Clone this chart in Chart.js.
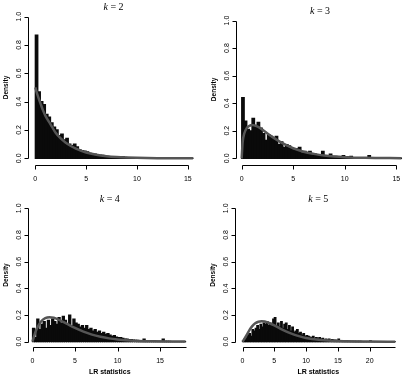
<!DOCTYPE html>
<html>
<head>
<meta charset="utf-8">
<script src="https://cdn.jsdelivr.net/npm/chart.js@4.4.0/dist/chart.umd.min.js"></script>
<style>
  body { margin: 0; background: #fff; }
  #wrap { position: relative; width: 405px; height: 374px; overflow: hidden; }
  canvas { position: absolute; }
</style>
</head>
<body>
<div id="wrap">
  <canvas id="k2" width="203" height="184" style="left:0;top:0"></canvas>
  <canvas id="k3" width="202" height="184" style="left:203px;top:0"></canvas>
  <canvas id="k4" width="203" height="190" style="left:0;top:184px"></canvas>
  <canvas id="k5" width="202" height="190" style="left:203px;top:184px"></canvas>
</div>
<script>
// histogram bin width (LR statistic units)
const binWidth = 0.25;

const yTicks = [0, 0.2, 0.4, 0.6, 0.8, 1.0];
const xTicksTop = [0, 5, 10, 15];
const xTicksK4 = [0, 5, 10, 15];
const xTicksK5 = [0, 5, 10, 15, 20];

// histogram densities, one value per bin starting at 0
const histK2 = [
  0.87, 0.47, 0.40, 0.38, 0.31, 0.29, 0.25, 0.22, 0.20, 0.16, 0.17, 0.13,
  0.14, 0.10, 0.09, 0.10, 0.08, 0.06, 0.055, 0.05, 0.045, 0.035, 0.03, 0.03,
  0.025, 0.02, 0.02, 0.016, 0.013, 0.012, 0.01, 0.009, 0.008, 0.007, 0.01, 0.006,
  0.005, 0.005, 0.004, 0.004, 0.003, 0.003, 0.003, 0.002, 0.003, 0.002, 0.002, 0.002,
  0.001, 0.002, 0.001, 0.001, 0.001, 0.002, 0.001, 0.001, 0.001, 0.001, 0.001, 0.001,
  0.001, 0.001
];
const histK3 = [
  0.44, 0.27, 0.21, 0.20, 0.29, 0.24, 0.26, 0.22, 0.18, 0.13, 0.17, 0.16,
  0.14, 0.16, 0.10, 0.12, 0.08, 0.10, 0.09, 0.07, 0.06, 0.07, 0.08, 0.04,
  0.05, 0.04, 0.05, 0.03, 0.03, 0.025, 0.02, 0.05, 0.02, 0.02, 0.03, 0.01,
  0.015, 0.01, 0.01, 0.02, 0.008, 0.01, 0.015, 0.005, 0.005, 0.004, 0.004, 0.003,
  0.003, 0.02, 0.003, 0.002, 0.003, 0.002, 0.002, 0.001, 0.001, 0.001, 0.001, 0.001,
  0.001, 0.001
];
const histK4 = [
  0.10, 0.03, 0.17, 0.09, 0.13, 0.15, 0.10, 0.16, 0.12, 0.17, 0.15, 0.13,
  0.18, 0.14, 0.19, 0.16, 0.13, 0.20, 0.12, 0.17, 0.14, 0.13, 0.11, 0.12,
  0.10, 0.12, 0.09, 0.10, 0.08, 0.09, 0.07, 0.08, 0.06, 0.07, 0.055, 0.06,
  0.05, 0.04, 0.045, 0.035, 0.03, 0.03, 0.025, 0.02, 0.02, 0.015, 0.015, 0.012,
  0.01, 0.01, 0.008, 0.008, 0.02, 0.006, 0.005, 0.005, 0.004, 0.004, 0.003, 0.003,
  0.003, 0.02, 0.002, 0.002, 0.002, 0.001, 0.001, 0.001, 0.001, 0.001, 0.001, 0.001
];
const histK5 = [
  0.005, 0.02, 0.03, 0.05, 0.06, 0.04, 0.09, 0.08, 0.10, 0.12, 0.09, 0.13,
  0.11, 0.14, 0.13, 0.15, 0.12, 0.14, 0.13, 0.17, 0.18, 0.12, 0.14, 0.11,
  0.15, 0.10, 0.13, 0.14, 0.09, 0.12, 0.08, 0.11, 0.07, 0.08, 0.09, 0.06,
  0.07, 0.05, 0.06, 0.04, 0.045, 0.04, 0.035, 0.03, 0.04, 0.025, 0.03, 0.02,
  0.03, 0.02, 0.025, 0.015, 0.02, 0.012, 0.02, 0.01, 0.015, 0.01, 0.012, 0.008,
  0.02, 0.006, 0.008, 0.005, 0.005, 0.004, 0.004, 0.003, 0.003, 0.003, 0.002, 0.002,
  0.002, 0.002, 0.002, 0.001, 0.001, 0.001, 0.001, 0.001, 0.006, 0.001, 0.001, 0.001,
  0.001, 0.001, 0.001, 0.001, 0.001, 0.001, 0.001, 0.001, 0.001, 0.001, 0.001, 0.001
];

// reference density curves
const curveK2x = [0, 0.25, 0.5, 0.75, 1, 1.5, 2, 2.5, 3, 3.5, 4, 5, 6, 7, 8, 9, 10, 12, 14, 15.5];
const curveK2y = [0.50, 0.44, 0.39, 0.34, 0.30, 0.24, 0.18, 0.14, 0.11, 0.087, 0.068, 0.041, 0.025, 0.015, 0.009, 0.0056, 0.0034, 0.0012, 0.0005, 0.0002];
const curveK3x = [0, 0.1, 0.25, 0.5, 0.75, 1, 1.5, 2, 2.5, 3, 4, 5, 6, 7, 8, 9, 10, 12, 15.5];
const curveK3y = [0, 0.12, 0.18, 0.22, 0.235, 0.242, 0.231, 0.208, 0.18, 0.154, 0.108, 0.073, 0.048, 0.032, 0.02, 0.013, 0.0085, 0.0035, 0.0006];
const curveK4x = [0, 0.25, 0.5, 1, 1.5, 2, 2.5, 3, 4, 5, 6, 7, 8, 9, 10, 12, 14, 16, 18];
const curveK4y = [0, 0.055, 0.097, 0.152, 0.177, 0.184, 0.179, 0.167, 0.135, 0.103, 0.075, 0.053, 0.037, 0.025, 0.017, 0.0074, 0.0032, 0.0013, 0.0006];
const curveK5x = [0, 0.5, 1, 1.5, 2, 2.5, 3, 3.5, 4, 5, 6, 7, 8, 9, 10, 12, 14, 16, 18, 20, 24];
const curveK5y = [0, 0.037, 0.08, 0.115, 0.138, 0.150, 0.154, 0.152, 0.144, 0.122, 0.097, 0.074, 0.055, 0.040, 0.028, 0.0138, 0.0065, 0.003, 0.0013, 0.0006, 0.0001];

const sans = '"Liberation Sans", Arial, Helvetica, sans-serif';
const serif = '"Liberation Serif", "Times New Roman", serif';

// R-style axes: lines only span the ticks, y labels rotated
function rAxesPlugin(cfg) {
    return {
        id: 'rAxes',
        afterDraw(chart) {
            const ctx = chart.ctx;
            const area = chart.chartArea;
            const xs = chart.scales.x, ys = chart.scales.y;
            ctx.save();
            ctx.strokeStyle = '#000';
            ctx.fillStyle = '#000';
            ctx.lineWidth = 1;

            const ax = Math.round(area.left) + 0.5;
            const ay = Math.round(area.bottom) + 0.5;
            ctx.beginPath();
            ctx.moveTo(ax, Math.round(ys.getPixelForValue(yTicks[0])) + 0.5);
            ctx.lineTo(ax, Math.round(ys.getPixelForValue(yTicks[yTicks.length - 1])) + 0.5);
            yTicks.forEach(v => {
                const p = Math.round(ys.getPixelForValue(v)) + 0.5;
                ctx.moveTo(ax, p);
                ctx.lineTo(ax - 4, p);
            });
            ctx.moveTo(Math.round(xs.getPixelForValue(cfg.xTicks[0])) + 0.5, ay);
            ctx.lineTo(Math.round(xs.getPixelForValue(cfg.xEnd)) + 0.5, ay);
            cfg.xTicks.forEach(v => {
                const p = Math.round(xs.getPixelForValue(v)) + 0.5;
                ctx.moveTo(p, ay);
                ctx.lineTo(p, ay + 4);
            });
            ctx.stroke();

            ctx.font = '7px ' + sans;
            ctx.textAlign = 'center';
            ctx.textBaseline = 'middle';
            cfg.xTicks.forEach(v => ctx.fillText(String(v), xs.getPixelForValue(v), ay + 13.5));
            yTicks.forEach(v => {
                ctx.save();
                ctx.translate(ax - 9, ys.getPixelForValue(v));
                ctx.rotate(-Math.PI / 2);
                ctx.fillText(v.toFixed(1), 0, 0);
                ctx.restore();
            });

            // axis titles
            ctx.save();
            ctx.font = 'bold 6.5px ' + sans;
            ctx.translate(ax - 22, ys.getPixelForValue(0.5));
            ctx.rotate(-Math.PI / 2);
            ctx.fillText('Density', 0, 0);
            ctx.restore();
            if (cfg.xLabel) {
                ctx.font = 'bold 7px ' + sans;
                ctx.fillText(cfg.xLabel, (area.left + area.right) / 2, ay + 25);
            }

            // panel title "k = n"
            const rest = ' = ' + cfg.k;
            ctx.font = 'italic 10px ' + serif;
            const wk = ctx.measureText('k').width;
            ctx.font = '10px ' + serif;
            const wr = ctx.measureText(rest).width;
            const cx = (area.left + area.right) / 2;
            const ty = ys.getPixelForValue(1.0) - 9;
            ctx.textAlign = 'left';
            ctx.font = 'italic 10px ' + serif;
            ctx.fillText('k', cx - (wk + wr) / 2, ty);
            ctx.font = '10px ' + serif;
            ctx.fillText(rest, cx - (wk + wr) / 2 + wk, ty);
            ctx.restore();
        }
    };
}

function drawPanel(id, cfg) {
    new Chart(document.getElementById(id), {
        type: 'bar',
        data: {
            datasets: [
                {
                    type: 'line',
                    data: cfg.curveX.map((x, i) => ({ x: x, y: cfg.curveY[i] })),
                    borderColor: '#555555',
                    borderWidth: 2.5,
                    pointRadius: 0,
                    cubicInterpolationMode: 'monotone',
                    order: 0
                },
                {
                    type: 'bar',
                    data: cfg.hist.map((d, i) => ({ x: (i + 0.5) * binWidth, y: d })),
                    backgroundColor: '#0a0a0a',
                    borderWidth: 0,
                    inflateAmount: 0.6,
                    barPercentage: 1,
                    categoryPercentage: 1,
                    order: 1
                }
            ]
        },
        options: {
            responsive: false,
            animation: false,
            devicePixelRatio: 1,
            layout: { padding: cfg.padding },
            plugins: { legend: { display: false }, tooltip: { enabled: false } },
            scales: {
                x: { type: 'linear', min: cfg.xMin, max: cfg.xMax, offset: false, display: false },
                y: { type: 'linear', min: cfg.yMin, max: 1.04, display: false }
            }
        },
        plugins: [rAxesPlugin(cfg)]
    });
}

drawPanel('k2', {
    k: 2, hist: histK2, curveX: curveK2x, curveY: curveK2y,
    xTicks: xTicksTop, xEnd: 15, xMin: -0.716, xMax: 16.1, yMin: -0.0438,
    padding: { left: 28, top: 11, right: 4, bottom: 19.5 }
});
drawPanel('k3', {
    k: 3, hist: histK3, curveX: curveK3x, curveY: curveK3y,
    xTicks: xTicksTop, xEnd: 15, xMin: -0.55, xMax: 15.75, yMin: -0.045,
    padding: { left: 33, top: 15, right: 1, bottom: 19.5 }
});
drawPanel('k4', {
    k: 4, hist: histK4, curveX: curveK4x, curveY: curveK4y, xLabel: 'LR statistics',
    xTicks: xTicksK4, xEnd: 18, xMin: -0.53, xMax: 18.7, yMin: -0.0375,
    padding: { left: 28, top: 19, right: 11.5, bottom: 27.3 }
});
drawPanel('k5', {
    k: 5, hist: histK5, curveX: curveK5x, curveY: curveK5y, xLabel: 'LR statistics',
    xTicks: xTicksK5, xEnd: 24, xMin: -1.18, xMax: 25, yMin: -0.0375,
    padding: { left: 32, top: 19, right: 3.5, bottom: 27.3 }
});
</script>
</body>
</html>
